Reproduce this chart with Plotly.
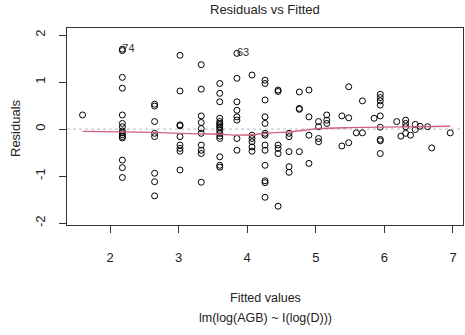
import plotly.graph_objects as go

fitted = [
    1.60,
    2.18, 2.18, 2.18, 2.18, 2.18, 2.18, 2.18, 2.18, 2.18, 2.18, 2.18, 2.18, 2.18, 2.18, 2.18,
    2.65, 2.65, 2.65, 2.65, 2.65, 2.65, 2.65, 2.65,
    3.02, 3.02, 3.02, 3.02, 3.02, 3.02, 3.02, 3.02, 3.02,
    3.33, 3.33, 3.33, 3.33, 3.33, 3.33, 3.33, 3.33, 3.33, 3.33,
    3.60, 3.60, 3.60, 3.60, 3.60, 3.60, 3.60, 3.60, 3.60, 3.60, 3.60, 3.60, 3.60, 3.60, 3.60, 3.60,
    3.85, 3.85, 3.85, 3.85, 3.85, 3.85, 3.85, 3.85,
    4.07, 4.07, 4.07, 4.07, 4.07, 4.07,
    4.26, 4.26, 4.26, 4.26, 4.26, 4.26, 4.26, 4.26, 4.26, 4.26, 4.26, 4.26, 4.26,
    4.45, 4.45, 4.45, 4.45, 4.45, 4.45,
    4.61, 4.61, 4.61, 4.61, 4.61,
    4.76, 4.76, 4.76, 4.76,
    4.90, 4.90, 4.90, 4.90,
    5.04, 5.04, 5.04, 5.04,
    5.16, 5.16, 5.16,
    5.38, 5.38,
    5.48, 5.48, 5.48,
    5.59,
    5.68, 5.68,
    5.85,
    5.94, 5.94, 5.94, 5.94, 5.94, 5.94, 5.94, 5.94, 5.94,
    6.18, 6.24,
    6.31, 6.31, 6.31, 6.31,
    6.38,
    6.45, 6.45,
    6.52, 6.63, 6.69, 6.96,
]
residuals = [
    0.30,
    1.70, 1.67, 1.10, 0.87, 0.30, 0.12, 0.05, -0.04, -0.08, -0.12, -0.16, -0.19, -0.66, -0.82, -1.03,
    0.53, 0.49, 0.16, -0.09, -0.16, -0.94, -1.12, -1.42,
    1.57, 0.81, 0.09, 0.07, -0.16, -0.34, -0.41, -0.47, -0.87,
    1.37, 0.85, 0.28, 0.14, 0.01, -0.09, -0.34, -0.45, -0.52, -1.13,
    0.97, 0.76, 0.58, 0.23, 0.16, 0.12, 0.09, 0.05, 0.02, -0.03, -0.09, -0.15, -0.20, -0.59, -0.77, -0.81,
    1.61, 1.08, 0.58, 0.40, 0.26, 0.19, -0.20, -0.45,
    1.15, -0.13, -0.20, -0.27, -0.38, -0.47,
    1.04, 0.97, 0.62, 0.26, 0.12, -0.09, -0.13, -0.34, -0.45, -0.77, -1.10, -1.14, -1.45,
    0.83, 0.80, -0.34, -0.41, -0.52, -1.64,
    -0.09, -0.16, -0.48, -0.80, -0.92,
    0.79, 0.44, 0.42, -0.48,
    0.83, 0.26, -0.13, -0.73,
    0.16, 0.05, -0.20, -0.27,
    0.30, 0.19, 0.12,
    0.28, -0.36,
    0.90, 0.24, -0.29,
    -0.08,
    0.60, -0.08,
    0.23,
    0.74, 0.67, 0.60, 0.51, 0.28, 0.04, -0.22, -0.25, -0.52,
    0.16, -0.15,
    0.19, 0.12, 0.05, -0.09,
    -0.13,
    0.10, -0.01,
    0.06, 0.05, -0.40, -0.08,
]

smooth_x = [1.60, 2.18, 2.65, 3.02, 3.33, 3.60, 3.85, 4.07, 4.26, 4.61, 5.04, 5.50, 5.94, 6.50, 6.96]
smooth_y = [-0.05, -0.06, -0.07, -0.09, -0.10, -0.11, -0.13, -0.12, -0.09, -0.06, 0.01, 0.03, 0.04, 0.05, 0.06]

label_x = [2.18, 3.85]
label_y = [1.70, 1.61]
label_text = ["74", "63"]

x_ticks = [2, 3, 4, 5, 6, 7]
y_ticks = [-2, -1, 0, 1, 2]

FONT = "Liberation Sans, Arial, sans-serif"
INK = "#222222"

fig = go.Figure()

fig.add_shape(type="line", xref="paper", yref="y", x0=0, x1=1, y0=0, y1=0,
              line=dict(color="#BBBBBB", width=1, dash="dot"), layer="below")

fig.add_trace(go.Scatter(
    x=fitted, y=residuals, mode="markers",
    marker=dict(symbol="circle-open", size=6, color="black", line=dict(width=1, color="black")),
    hoverinfo="skip", showlegend=False,
))

fig.add_trace(go.Scatter(
    x=smooth_x, y=smooth_y, mode="lines",
    line=dict(color="#D0607A", width=1.3, shape="spline", smoothing=0.6),
    hoverinfo="skip", showlegend=False,
))

fig.add_trace(go.Scatter(
    x=label_x, y=label_y, mode="text", text=label_text,
    textposition="middle right",
    textfont=dict(family=FONT, size=11, color="#333333"),
    hoverinfo="skip", showlegend=False,
))

fig.update_layout(
    width=465, height=335,
    margin=dict(l=67, r=2, t=28, b=110),
    paper_bgcolor="white", plot_bgcolor="white",
    font=dict(family=FONT, size=12.5, color=INK),
    showlegend=False,
    xaxis=dict(
        range=[1.373, 7.146], tickvals=x_ticks, ticktext=[str(v) for v in x_ticks],
        showgrid=False, zeroline=False,
        showline=True, mirror=True, linecolor="#333333", linewidth=1,
        ticks="outside", ticklen=7, tickcolor="#333333", tickwidth=1,
        ticklabelstandoff=13,
        tickfont=dict(family=FONT, size=13, color=INK),
    ),
    yaxis=dict(
        range=[-2.04, 2.15], tickvals=y_ticks, ticktext=[str(v) for v in y_ticks],
        showgrid=False, zeroline=False,
        showline=True, mirror=True, linecolor="#333333", linewidth=1,
        ticks="outside", ticklen=7, tickcolor="#333333", tickwidth=1,
        tickangle=-90, ticklabelstandoff=9,
        tickfont=dict(family=FONT, size=13, color=INK),
    ),
    annotations=[
        dict(text="Residuals vs Fitted", xref="paper", yref="paper", x=0.5, y=(225 - 10) / 197,
             xanchor="center", yanchor="middle", showarrow=False,
             font=dict(family=FONT, size=13, color=INK)),
        dict(text="Fitted values", xref="paper", yref="paper", x=0.5, y=(225 - 298) / 197,
             xanchor="center", yanchor="middle", showarrow=False,
             font=dict(family=FONT, size=12.5, color=INK)),
        dict(text="lm(log(AGB) ~ I(log(D)))", xref="paper", yref="paper", x=0.5, y=(225 - 318) / 197,
             xanchor="center", yanchor="middle", showarrow=False,
             font=dict(family=FONT, size=12.5, color=INK)),
        dict(text="Residuals", xref="paper", yref="paper", x=(15 - 67) / 396, y=(225 - 128) / 197,
             xanchor="center", yanchor="middle", showarrow=False, textangle=-90,
             font=dict(family=FONT, size=13, color=INK)),
    ],
)

fig.write_html("out.html")
